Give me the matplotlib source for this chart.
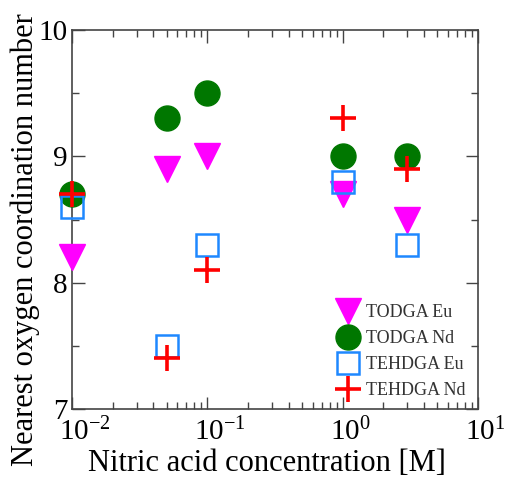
import matplotlib
matplotlib.use('Agg')
import matplotlib.pyplot as plt
from matplotlib.ticker import LogLocator, MultipleLocator, LogFormatterMathtext, NullFormatter
from matplotlib.transforms import ScaledTranslation

plt.rcParams['font.family'] = 'Liberation Serif'
plt.rcParams['mathtext.fontset'] = 'custom'
plt.rcParams['mathtext.rm'] = 'Liberation Serif'
plt.rcParams['mathtext.it'] = 'Liberation Serif'

# concentracion de acido nitrico [M]
conc = [0.01, 0.05, 0.1, 1.0, 3.0]
todga_eu = [8.2, 8.9, 9.0, 8.7, 8.5]
todga_nd = [8.7, 9.3, 9.5, 9.0, 9.0]
tehdga_eu = [8.6, 7.5, 8.3, 8.8, 8.3]
tehdga_nd = [8.7, 7.4, 8.1, 9.3, 8.9]
series_names = ['TODGA Eu', 'TODGA Nd', 'TEHDGA Eu', 'TEHDGA Nd']

fig = plt.figure(figsize=(5.05, 4.79), dpi=100)
ax = fig.add_axes([0.1426, 0.1461, 0.804, 0.7913])

ax.plot(conc, todga_eu, 'v', color='magenta', markersize=19, linestyle='none',
        clip_on=False, label=series_names[0], zorder=3)
ax.plot(conc, todga_nd, 'o', color='#007700', markersize=18, linestyle='none',
        clip_on=False, label=series_names[1], zorder=3)
ax.plot(conc, tehdga_eu, 's', markerfacecolor='none', markeredgecolor='#1e88ff',
        markeredgewidth=1.8, markersize=16, linestyle='none',
        clip_on=False, label=series_names[2], zorder=4)
ax.plot(conc, tehdga_nd, '+', color='red', markersize=19, markeredgewidth=2.6,
        linestyle='none', clip_on=False, label=series_names[3], zorder=5)

ax.set_xscale('log')
ax.set_xlim(0.01, 10)
ax.set_ylim(7, 10)
ax.xaxis.set_major_locator(LogLocator(base=10))
ax.xaxis.set_minor_locator(LogLocator(base=10, subs=range(2, 10)))
ax.xaxis.set_major_formatter(LogFormatterMathtext())
ax.xaxis.set_minor_formatter(NullFormatter())
ax.yaxis.set_major_locator(MultipleLocator(1))
ax.yaxis.set_minor_locator(MultipleLocator(0.5))

ax.tick_params(which='both', direction='in', top=True, right=True,
               colors='#444444', labelcolor='black', labelsize=21)
ax.tick_params(which='major', length=9, width=1)
ax.tick_params(which='minor', length=5, width=1)
ax.tick_params(axis='x', pad=6)
ax.tick_params(axis='y', pad=3)
for s in ax.spines.values():
    s.set_color('#444444')
    s.set_linewidth(1.2)

# el "10" queda centrado en la marca y el exponente sobresale a la derecha
offset = ScaledTranslation(-13 / 100, 0, fig.dpi_scale_trans)
for lbl in ax.get_xticklabels():
    lbl.set_ha('left')
    lbl.set_transform(lbl.get_transform() + offset)

ax.set_xlabel('Nitric acid concentration [M]', fontsize=22)
ax.set_ylabel('Nearest oxygen coordination number', fontsize=22)
# las etiquetas no estan centradas en el eje en la figura original
ax.xaxis.set_label_coords(0.48, -0.105)
ax.yaxis.set_label_coords(-0.116, 0.446)
ax.yaxis.label.set_va('center')

leg = ax.legend(loc='lower right', frameon=False, fontsize=13, handletextpad=0.4,
                labelspacing=0.5, borderaxespad=0.3, handlelength=1.2,
                bbox_to_anchor=(1.0, -0.008))
for t in leg.get_texts():
    t.set_color('#333333')

fig.savefig('out.png', dpi=100)
